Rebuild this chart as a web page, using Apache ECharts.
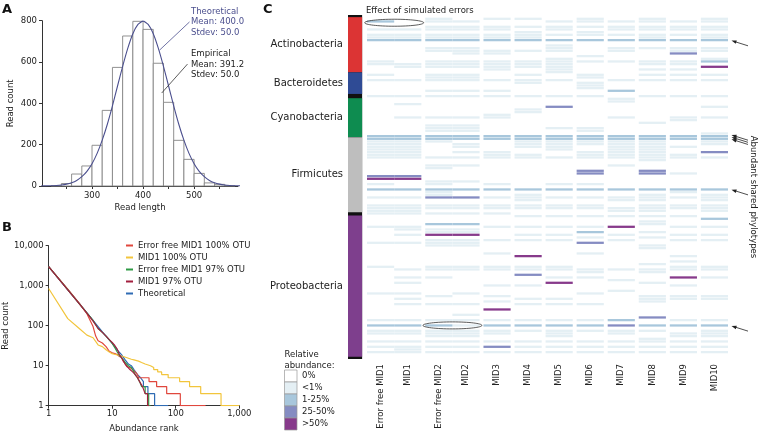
<!DOCTYPE html>
<html><head><meta charset="utf-8">
<script src="https://cdn.jsdelivr.net/npm/echarts@6/dist/echarts.min.js"></script>
<style>html,body{margin:0;padding:0;background:#fff}#c{width:760px;height:435px}</style>
</head><body><div id="c"></div>
<script>
const FONT = 'DejaVu Sans';
// ---------- Panel A: read length histogram ----------
const histBinStart = [220,240,260,280,300,320,340,360,380,400,420,440,460,480,500,520,540,560];
const histCount    = [2,12,58,97,197,366,574,726,797,758,594,405,221,129,61,15,8,2];
const curveLength  = [200,210,220,230,240,250,260,270,280,290,300,310,320,330,340,350,360,370,380,390,400,410,420,430,440,450,460,470,480,490,500,510,520,530,540,550,560,570,580,590];
const curveCount   = [0.3,0.6,1.2,2.5,4.8,8.9,15.8,27,45,71,108,158,222,299,388,484,579,666,737,782,798,782,737,666,579,484,388,299,222,158,108,71,45,27,15.8,8.9,4.8,2.5,1.2,0.6];
const lengthLabels = [300,400,500];
const lengthTicks  = [250,300,350,400,450,500,550];

// ---------- Panel B: rank abundance ----------
const seriesNamesB = ['Error free MID1 100% OTU','MID1 100% OTU','Error free MID1 97% OTU','MID1 97% OTU','Theoretical'];
const errFree100 = [[1,3000],[2,820],[3,370],[4,200],[5,95],[5.5,55],[6,42],[7,37],[8,30],[9,23],[10,21],[11,20],[12,19],[13,17],[14,16],[15,13],[16,11],[17,9.5],[19,9],[21,8],[23,7],[25,6],[26,5],[38,5],[38,4],[50,4],[50,3],[72,3],[72,2],[118,2],[118,1],[295,1]];
const mid1_100  = [[1,850],[2,150],[3,86],[4,58],[5,50],[6,33],[7,30],[8,25],[9,22],[10,20],[12,18.5],[15,17],[20,14.5],[22,14],[22,13],[26,13],[26,12],[29,12],[29,11],[33,11],[33,10],[40,10],[40,9],[45,9],[45,8],[52,8],[52,7],[60,7],[60,6],[76,6],[76,5],[115,5],[115,4],[165,4],[165,3],[247,3],[247,2],[516,2],[516,1],[1000,1]];
const errFree97 = [[1,3000],[2,800],[3,360],[4,210],[5,135],[6,85],[7,68],[8,55],[9,44],[10,36],[11,28],[12,22],[13,18],[14,16],[15,14],[16,12],[17,11],[18,10],[20,9],[22,7],[23,6],[25,5],[27,4],[29,4],[29,3],[33,3],[33,2],[37.5,2],[37.5,1],[40,1]];
const mid1_97   = [[1,3000],[2,790],[3,360],[4,205],[5,130],[6,85],[7,68],[8,55],[9,45],[10,38],[11,32],[12,26],[13,19],[14,16],[15,13],[16,11],[17,10],[19,8],[21,7],[23,6],[25,5],[27,4],[30,3],[33,2],[36,2],[36,1],[38,1]];
const theoretical = [[1,3000],[2,790],[3,365],[4,210],[5,136],[6,95],[7,70],[8,55],[9,44],[10,36],[12,25],[14,19],[16,14],[18,11],[20,10],[22,8],[25,6],[28,5],[31,4],[31,3],[36.5,3],[36.5,2],[46.5,2],[46.5,1],[76,1]];
const colorsB = ['#e0473d','#f2c53c','#2e9a45','#a21f3e','#2f6bb4'];

// ---------- Panel C: heatmap ----------
const colNames = ['Error free MID1','MID1','Error free MID2','MID2','MID3','MID4','MID5','MID6','MID7','MID8','MID9','MID10'];
const levelNames = ['0%','<1%','1-25%','25-50%','>50%'];
const levelColors = ['#ffffff','#e4eff4','#a8c7dc','#858cc2','#873a8b'];
// rows (0 = top) per column for each abundance level
const lowRows = [
 [5,7,8,17,18,22,24,30,47,48,49,50,51,52,53,63,68,71,72,73,74,79,85,94,104,114,118,119,122,124,126],
 [5,7,8,18,19,24,30,33,38,47,48,49,50,51,52,53,68,71,72,73,74,79,80,82,85,95,98,100,104,106,108,114,118,119,122,124,125,126],
 [1,2,4,5,7,8,12,13,17,18,19,22,23,24,28,30,38,41,42,43,47,53,56,57,62,63,66,67,71,72,74,80,81,84,85,86,94,95,98,105,108,114,118,119,120,122,124,126],
 [2,4,5,7,8,12,13,14,17,18,19,22,23,24,28,30,38,41,42,43,48,49,51,53,56,62,71,72,74,80,81,84,85,86,94,95,104,108,112,114,116,118,119,120,122,124,126],
 [1,4,5,7,8,13,14,17,18,19,20,24,28,30,37,38,51,52,53,63,68,71,72,74,79,84,89,94,95,101,105,107,114,118,119,122,126],
 [1,4,6,7,8,13,17,18,19,22,24,25,30,35,36,47,48,49,52,53,67,68,69,71,72,75,79,82,84,94,95,101,106,108,114,118,122,124,126],
 [2,4,5,7,11,12,13,16,17,18,19,20,21,24,30,42,47,48,49,50,53,63,68,71,72,75,79,82,84,94,95,98,106,108,114,118,119,120,122,124,126],
 [1,2,4,6,7,15,17,22,23,25,26,27,30,42,43,47,48,51,52,53,63,68,71,72,75,79,83,89,95,96,98,104,108,114,118,122,124,126],
 [2,4,5,7,12,13,17,24,31,32,38,47,48,49,50,51,52,53,56,68,69,72,73,75,82,84,95,99,103,118,119,122,124,126],
 [1,2,4,5,7,8,12,17,18,20,22,24,30,40,47,48,49,50,51,52,53,54,67,68,69,71,72,73,75,77,78,81,83,86,87,93,95,96,100,105,106,107,118,121,122,124,126],
 [2,4,5,7,12,13,17,18,20,22,24,30,38,39,49,52,53,59,66,68,71,72,75,79,82,84,90,92,94,95,101,105,106,114,119,120,122,124,126],
 [1,2,4,5,7,8,12,13,16,22,24,30,34,38,44,47,48,53,67,68,69,71,72,73,79,82,84,94,95,98,105,106,114,118,119,120,122,124,126]
];
const midRows = [
 [2,9,45,46,65,116],[9,45,46,65,116],[9,45,46,65,78,116],[9,45,46,65,78],
 [9,45,46,65,116],[9,45,46,65,116],[9,45,46,65,116],[9,45,46,65,81,116],
 [9,28,45,46,65,114],[9,45,46,65,116],[9,45,46,65,116],[9,17,45,46,65,76,116]
];
const highRows = [[60],[60],[68],[68],[124],[97],[34],[58,59,85],[116],[58,59,113],[14],[51]];
const topRows  = [[61],[61],[82],[82],[110],[90],[100],[],[79],[],[98],[19]];
// phylum side bar (row spans)
const phylumNames = ['Actinobacteria','Bacteroidetes','Cyanobacteria','Firmicutes','Proteobacteria'];
const phylumStart = [0.8,21.5,31.2,45.8,75.2];
const phylumEnd   = [21.5,29.6,45.8,74,128.2];
const phylumColors = ['#dc3434','#2f4b95','#0e8c50','#bebebe','#7e3f8d'];
const arrowRows = [9.6,45.0,45.8,46.6,65.5,116.6];

// ---------- layout helpers ----------
const ROWS = 129, GAP = 0.143, SIDE_X0 = -0.7, SIDE_X1 = -0.18, X_MAX = 13.286;
const colGroup = []; { let g = 0; colNames.forEach(n => { colGroup.push(g); if (!n.startsWith('Error free')) g++; }); }
const colStart = i => i + colGroup[i] * GAP;

const cells = [];
[lowRows, midRows, highRows, topRows].forEach((lst, li) =>
  lst.forEach((rows, ci) => rows.forEach(r => cells.push([ci, r, li + 1]))));

const txt = (size, color) => ({fontSize: size, fontFamily: FONT, color: color || '#222'});
const axisLineS = {show: true, lineStyle: {color: '#333', width: 1}};
const logFmt = v => Number(v).toLocaleString('en-US');

const chart = echarts.init(document.getElementById('c'));
const option = {
  animation: false,
  backgroundColor: '#fff',
  grid: [
    {left: 42, top: 20.7, width: 196, height: 165.3},
    {left: 44.3, top: 245.7, width: 195, height: 160},
    {left: 348, top: 15, width: 380, height: 344}
  ],
  xAxis: [
    {gridIndex: 0, type: 'value', min: 202, max: 586, axisLine: axisLineS,
     axisTick: {show: true, length: 3, customValues: lengthTicks, lineStyle: {color: '#333'}},
     axisLabel: Object.assign({customValues: lengthLabels, margin: 5}, txt(8.5)),
     splitLine: {show: false}, name: 'Read length', nameLocation: 'middle', nameGap: 17, nameTextStyle: txt(8.5)},
    {gridIndex: 1, type: 'log', logBase: 10, min: 1, max: 1000, axisLine: axisLineS,
     axisTick: {show: true, length: 3, lineStyle: {color: '#333'}},
     axisLabel: Object.assign({formatter: logFmt, margin: 4}, txt(8.5)),
     minorTick: {show: false}, splitLine: {show: false},
     name: 'Abundance rank', nameLocation: 'middle', nameGap: 19, nameTextStyle: txt(8.5)},
    {gridIndex: 2, type: 'value', min: SIDE_X0, max: X_MAX, show: false}
  ],
  yAxis: [
    {gridIndex: 0, type: 'value', min: 0, max: 800, interval: 200, axisLine: axisLineS,
     axisTick: {show: true, length: 3, lineStyle: {color: '#333'}},
     axisLabel: Object.assign({margin: 5}, txt(8.5)), splitLine: {show: false},
     name: 'Read count', nameLocation: 'middle', nameGap: 27, nameTextStyle: txt(8.5)},
    {gridIndex: 1, type: 'log', logBase: 10, min: 1, max: 10000, axisLine: axisLineS,
     axisTick: {show: true, length: 3, lineStyle: {color: '#333'}},
     axisLabel: Object.assign({formatter: logFmt, margin: 5}, txt(8.5)),
     minorTick: {show: false}, splitLine: {show: false},
     name: 'Read count', nameLocation: 'middle', nameGap: 29, nameTextStyle: txt(8.5)},
    {gridIndex: 2, type: 'value', min: 0, max: ROWS, inverse: true, show: false}
  ],
  legend: {
    data: seriesNamesB, orient: 'vertical', left: 126, top: 240.5, padding: 0,
    itemWidth: 7, itemHeight: 2, itemGap: 2, icon: 'rect', selectedMode: false,
    textStyle: Object.assign({lineHeight: 10}, txt(8.5))
  },
  series: [
    {type: 'custom', xAxisIndex: 0, yAxisIndex: 0, encode: {x: 0, y: 1},
     data: histBinStart.map((s, i) => [s, histCount[i]]),
     renderItem: (p, api) => {
       const s = api.value(0), c = api.value(1);
       const a = api.coord([s, c]), b = api.coord([s + 20, 0]);
       return {type: 'rect', shape: {x: a[0], y: a[1], width: b[0] - a[0], height: b[1] - a[1]},
               style: {fill: '#fff', stroke: '#858585', lineWidth: 0.9}};
     }},
    {type: 'line', xAxisIndex: 0, yAxisIndex: 0, data: curveLength.map((x, i) => [x, curveCount[i]]),
     showSymbol: false, smooth: 0.2, lineStyle: {color: '#4b4f8e', width: 1.1}, itemStyle: {color: '#4b4f8e'}},
    ...[[4, theoretical], [0, errFree100], [1, mid1_100], [2, errFree97], [3, mid1_97]].map(([k, d]) => ({
      name: seriesNamesB[k], type: 'line', xAxisIndex: 1, yAxisIndex: 1, data: d, showSymbol: false,
      lineStyle: {color: colorsB[k], width: 1.2}, itemStyle: {color: colorsB[k]}
    })),
    // heatmap cells
    {type: 'custom', xAxisIndex: 2, yAxisIndex: 2, encode: {x: 0, y: 1}, data: cells,
     renderItem: (p, api) => {
       const ci = api.value(0), r = api.value(1), lv = api.value(2);
       const x0 = colStart(ci);
       const a = api.coord([x0, r]), b = api.coord([x0 + 1, r + 1]);
       return {type: 'rect', shape: {x: a[0], y: a[1], width: b[0] - a[0], height: b[1] - a[1] - 0.4},
               style: {fill: levelColors[lv]}};
     }},
    // side bar: black background + phyla
    {type: 'custom', xAxisIndex: 2, yAxisIndex: 2, encode: {x: 0, y: 1},
     data: [[0, ROWS, -1]].concat(phylumStart.map((s, i) => [s, phylumEnd[i], i])),
     renderItem: (p, api) => {
       const s = api.value(0), e = api.value(1), k = api.value(2);
       const a = api.coord([SIDE_X0, s]), b = api.coord([SIDE_X1, e]);
       return {type: 'rect', shape: {x: a[0], y: a[1], width: b[0] - a[0], height: b[1] - a[1]},
               style: {fill: k < 0 ? '#111' : phylumColors[k]}};
     }},
    // phylum labels
    {type: 'custom', xAxisIndex: 2, yAxisIndex: 2, encode: {x: 0, y: 1},
     data: phylumStart.map((s, i) => [s, phylumEnd[i], i]),
     renderItem: (p, api) => {
       const k = api.value(2);
       const a = api.coord([SIDE_X0, (api.value(0) + api.value(1)) / 2]);
       return {type: 'text', x: a[0] - 5, y: a[1],
               style: {text: phylumNames[k], font: '10px "DejaVu Sans"', fill: '#222', align: 'right', verticalAlign: 'middle'}};
     }},
    // column labels
    {type: 'custom', xAxisIndex: 2, yAxisIndex: 2, encode: {x: 0, y: 1},
     data: colNames.map((n, i) => [i, ROWS]),
     renderItem: (p, api) => {
       const i = api.value(0);
       const a = api.coord([colStart(i) + 0.5, ROWS]);
       return {type: 'text', x: a[0], y: a[1] + 5, rotation: Math.PI / 2,
               style: {text: colNames[i], font: '8.5px "DejaVu Sans"', fill: '#222', align: 'right', verticalAlign: 'middle'}};
     }}
  ]
};
chart.setOption(option);

// ---------- annotations ----------
const pA = v => chart.convertToPixel({xAxisIndex: 0, yAxisIndex: 0}, v);
const pC = v => chart.convertToPixel({xAxisIndex: 2, yAxisIndex: 2}, v);
const F = s => s + 'px "DejaVu Sans"';
const g = [];
const T = (text, x, y, o) => g.push(Object.assign({type: 'text', x, y, z: 100,
  style: Object.assign({text, font: F(8.5), fill: '#222', align: 'left', verticalAlign: 'middle'}, (o && o.style) || {})},
  o && o.rotation !== undefined ? {rotation: o.rotation} : {}));
T('A', 2, 9.5, {style: {font: 'bold 13px "DejaVu Sans"', fill: '#111'}});
T('B', 2, 227.5, {style: {font: 'bold 13px "DejaVu Sans"', fill: '#111'}});
T('C', 263, 10, {style: {font: 'bold 13px "DejaVu Sans"', fill: '#111'}});
T('Theoretical\nMean: 400.0\nStdev: 50.0', 191, 6.5, {style: {fill: '#4b4f8e', verticalAlign: 'top', lineHeight: 10.5}});
T('Empirical\nMean: 391.2\nStdev: 50.0', 191, 49, {style: {verticalAlign: 'top', lineHeight: 10.5}});
const L = (a, b, color) => g.push({type: 'line', z: 100, shape: {x1: a[0], y1: a[1], x2: b[0], y2: b[1]},
  style: {stroke: color, lineWidth: 0.8}});
L(pA([491, 794]), pA([432.5, 658]), '#4b4f8e');
L(pA([487, 590]), pA([436.5, 450]), '#333');
T('Effect of simulated errors', 366, 10.7);
[[colStart(0) + 1, 2.9], [colStart(2) + 1, 116.4]].forEach(c => {
  const p = pC(c);
  g.push({type: 'ellipse', z: 100, shape: {cx: p[0], cy: p[1], rx: 29.5, ry: 3.5},
          style: {fill: 'none', stroke: '#333', lineWidth: 0.8}});
});
arrowRows.forEach(r => {
  const h = pC([X_MAX, r]); const hx = h[0] + 3.5, hy = h[1];
  const tx = hx + 16.5, ty = hy + 5.2;
  const len = Math.hypot(tx - hx, ty - hy), ux = (tx - hx) / len, uy = (ty - hy) / len;
  g.push({type: 'line', z: 100, shape: {x1: hx + ux * 3, y1: hy + uy * 3, x2: tx, y2: ty}, style: {stroke: '#222', lineWidth: 0.8}});
  g.push({type: 'polygon', z: 100, shape: {points: [[hx, hy], [hx + ux * 5 - uy * 1.8, hy + uy * 5 + ux * 1.8], [hx + ux * 5 + uy * 1.8, hy + uy * 5 - ux * 1.8]]},
          style: {fill: '#222'}});
});
T('Abundant shared phylotypes', 753.7, 197, {rotation: -Math.PI / 2, style: {align: 'center'}});
// heatmap legend
T('Relative\nabundance:', 284.5, 349.6, {style: {verticalAlign: 'top', lineHeight: 10.7}});
levelNames.forEach((n, i) => {
  g.push({type: 'rect', z: 100, shape: {x: 284.5, y: 370 + 12 * i, width: 12.5, height: 12},
          style: {fill: levelColors[i], stroke: '#9a9a9a', lineWidth: 0.7}});
  T(n, 302, 376 + 12 * i);
});
chart.setOption({graphic: g});
</script></body></html>
